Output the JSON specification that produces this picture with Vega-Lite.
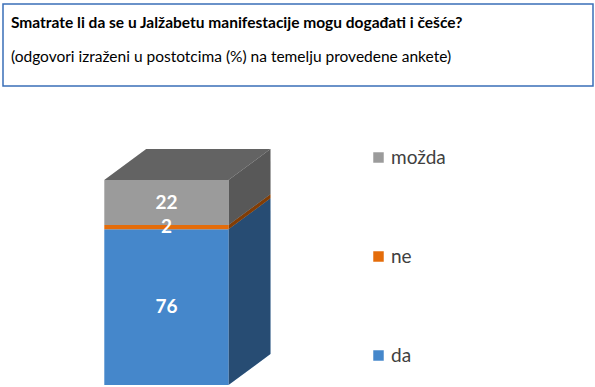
{
  "$schema": "https://vega.github.io/schema/vega-lite/v6.json",
  "padding": {"left": 2, "top": 3, "right": 3, "bottom": 4},
  "background": "white",
  "spacing": 15,
  "config": {"view": {"stroke": null}, "font": "Lato"},
  "vconcat": [
    {
      "width": 590,
      "height": 82,
      "view": {"stroke": "#3a6fb8", "strokeWidth": 1.5},
      "title": {
        "text": "Smatrate li da se u Jalžabetu manifestacije mogu događati i češće?",
        "subtitle": "\u00a0(odgovori izraženi u postotcima (%) na temelju provedene ankete)",
        "anchor": "start",
        "frame": "group",
        "dx": 8,
        "offset": -61,
        "font": "Lato",
        "fontSize": 15.5,
        "fontWeight": "bold",
        "color": "#000000",
        "subtitleFont": "Lato",
        "subtitleFontSize": 15.5,
        "subtitleColor": "#000000",
        "subtitlePadding": 18
      },
      "data": {"values": [{}]},
      "mark": "text",
      "encoding": {"text": {"value": ""}}
    },
    {
      "width": 590,
      "height": 283,
      "data": {
        "values": [
          {"answer": "da", "value": 76},
          {"answer": "ne", "value": 2},
          {"answer": "možda", "value": 22}
        ]
      },
      "transform": [
        {"calculate": "indexof(['da','ne','možda'], datum.answer)", "as": "order"},
        {"stack": "value", "groupby": [], "sort": [{"field": "order", "order": "ascending"}], "as": ["y0", "y1"]},
        {"calculate": "(datum.y0 + datum.y1) / 2", "as": "mid"}
      ],
      "layer": [
        {
          "transform": [
            {"calculate": "[0, 1]", "as": "edge"},
            {"flatten": ["edge"]},
            {"calculate": "1 + datum.edge * 0.338", "as": "sx"},
            {"calculate": "datum.y0 + datum.edge * 15.1", "as": "sy0"},
            {"calculate": "datum.y1 + datum.edge * 15.1", "as": "sy1"}
          ],
          "layer": [
            {
              "mark": {"type": "area", "orient": "vertical"},
              "encoding": {
                "x": {"field": "sx", "type": "quantitative"},
                "y": {"field": "sy0", "type": "quantitative", "stack": null},
                "y2": {"field": "sy1"},
                "color": {"field": "answer", "type": "nominal"},
                "detail": {"field": "answer"}
              }
            },
            {
              "mark": {"type": "area", "orient": "vertical", "color": "black", "opacity": 0.43},
              "encoding": {
                "x": {"field": "sx", "type": "quantitative"},
                "y": {"field": "sy0", "type": "quantitative", "stack": null},
                "y2": {"field": "sy1"},
                "detail": {"field": "answer"}
              }
            }
          ]
        },
        {
          "transform": [
            {"filter": "datum.answer === 'možda'"},
            {"calculate": "[0, 1]", "as": "edge"},
            {"flatten": ["edge"]},
            {"calculate": "datum.edge * 0.338", "as": "tx"},
            {"calculate": "1 + datum.edge * 0.338", "as": "tx2"},
            {"calculate": "datum.y1 + datum.edge * 15.1", "as": "ty"}
          ],
          "layer": [
            {
              "mark": {"type": "area", "orient": "horizontal"},
              "encoding": {
                "y": {"field": "ty", "type": "quantitative", "stack": null},
                "x": {"field": "tx", "type": "quantitative"},
                "x2": {"field": "tx2"},
                "color": {"field": "answer", "type": "nominal"}
              }
            },
            {
              "mark": {"type": "area", "orient": "horizontal", "color": "black", "opacity": 0.36},
              "encoding": {
                "y": {"field": "ty", "type": "quantitative", "stack": null},
                "x": {"field": "tx", "type": "quantitative"},
                "x2": {"field": "tx2"}
              }
            }
          ]
        },
        {
          "mark": {"type": "bar"},
          "encoding": {
            "x": {"datum": 0, "type": "quantitative"},
            "x2": {"datum": 1},
            "y": {"field": "y0", "type": "quantitative"},
            "y2": {"field": "y1"},
            "color": {"field": "answer", "type": "nominal"}
          }
        },
        {
          "mark": {"type": "text", "color": "white", "fontWeight": "bold", "fontSize": 19, "font": "Lato"},
          "encoding": {
            "x": {"datum": 0.5, "type": "quantitative"},
            "y": {"field": "mid", "type": "quantitative"},
            "text": {"field": "value", "type": "quantitative"}
          }
        }
      ],
      "encoding": {
        "x": {"type": "quantitative", "scale": {"domain": [-0.8156, 3.935], "nice": false, "zero": false}, "axis": null},
        "y": {"type": "quantitative", "scale": {"domain": [0, 138.05], "nice": false, "zero": false}, "axis": null},
        "color": {
          "type": "nominal",
          "scale": {"domain": ["možda", "ne", "da"], "range": ["#9b9b9b", "#e46c0a", "#4587cb"]},
          "legend": {
            "title": null,
            "orient": "none",
            "legendX": 366,
            "legendY": 144,
            "direction": "vertical",
            "symbolType": "square",
            "symbolSize": 110,
            "symbolStrokeWidth": 0,
            "labelFont": "Lato",
            "labelFontSize": 19,
            "labelColor": "#404040",
            "labelOffset": 3,
            "rowPadding": 79,
            "padding": 0
          }
        }
      }
    }
  ]
}
